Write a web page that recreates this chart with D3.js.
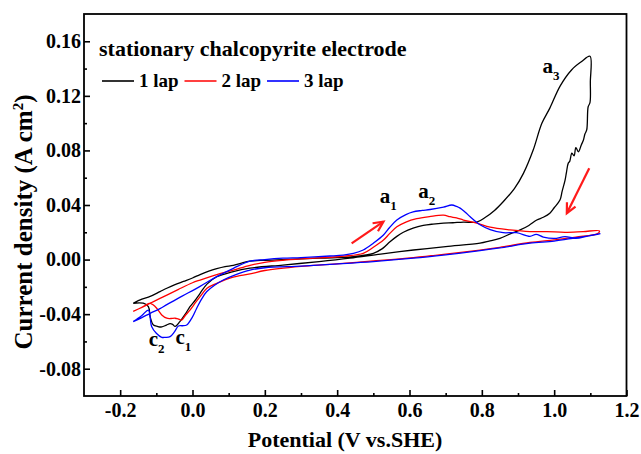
<!DOCTYPE html>
<html>
<head>
<meta charset="utf-8">
<script src="https://cdn.jsdelivr.net/npm/d3@7"></script>
<style>
  body { margin: 0; background: #fff; }
  text { font-family: "Liberation Serif", "Times New Roman", serif; font-weight: bold; fill: #000; }
</style>
</head>
<body>
<div id="chart"></div>
<script>
// cyclic voltammograms, [potential V vs SHE, current density A/cm2]
const lap1 = [
  [-0.164,-0.032],[-0.14,-0.029],[-0.117,-0.027],[-0.09,-0.0235],[-0.071,-0.021],[-0.05,-0.0185],
  [-0.025,-0.016],[0.0,-0.0135],[0.021,-0.011],[0.045,-0.0085],[0.067,-0.0067],[0.09,-0.0052],
  [0.113,-0.0042],[0.159,-0.0012],[0.2,-0.0005],[0.25,0.0],[0.3,0.0005],[0.35,0.001],[0.4,0.0015],
  [0.445,0.0022],[0.5,0.0046],[0.525,0.008],[0.546,0.013],[0.565,0.017],[0.583,0.020],[0.61,0.023],
  [0.638,0.025],[0.665,0.026],[0.694,0.0267],[0.72,0.027],[0.749,0.0275],[0.786,0.0275],[0.81,0.031],
  [0.835,0.036],[0.859,0.0424],[0.89,0.052],[0.915,0.0632],[0.942,0.0803],[0.966,0.0999],[0.988,0.111],
  [1.016,0.127],[1.048,0.139],[1.075,0.145],[1.099,0.149],
  [1.1,0.13],[1.099,0.115],[1.094,0.112],[1.09,0.095],[1.085,0.092],[1.081,0.0876],[1.075,0.084],
  [1.067,0.079],[1.06,0.082],[1.055,0.076],[1.049,0.078],[1.043,0.072],[1.039,0.0707],[1.034,0.064],
  [1.030,0.058],[1.022,0.05],[1.016,0.0436],[1.0,0.038],[0.988,0.034],[0.97,0.031],[0.952,0.029],
  [0.93,0.025],[0.906,0.0217],[0.88,0.019],[0.85,0.0156],[0.82,0.0135],[0.795,0.012],[0.7,0.0095],
  [0.611,0.007],[0.52,0.004],[0.435,0.001],[0.35,-0.0015],[0.25,-0.004],[0.159,-0.0063],[0.11,-0.009],
  [0.067,-0.0126],[0.04,-0.018],[0.021,-0.0247],[0.007,-0.030],[-0.007,-0.0345],[-0.02,-0.040],
  [-0.035,-0.0455],[-0.048,-0.049],[-0.055,-0.0475],[-0.062,-0.047],[-0.072,-0.048],[-0.085,-0.0494],
  [-0.097,-0.049],[-0.108,-0.048],[-0.117,-0.042],[-0.122,-0.0345],[-0.136,-0.032],[-0.164,-0.032]
];
const lap2 = [
  [-0.164,-0.038],[-0.14,-0.035],[-0.117,-0.032],[-0.09,-0.0285],[-0.071,-0.026],[-0.04,-0.022],
  [0.0,-0.017],[0.021,-0.015],[0.067,-0.011],[0.113,-0.0077],[0.159,-0.0042],[0.2,-0.002],
  [0.25,-0.0005],[0.3,0.0005],[0.38,0.0017],[0.42,0.0025],[0.472,0.0046],[0.5,0.009],[0.528,0.0143],
  [0.545,0.019],[0.565,0.024],[0.59,0.0275],[0.62,0.030],[0.655,0.0315],[0.694,0.0326],[0.712,0.0314],
  [0.73,0.0305],[0.749,0.029],[0.786,0.0267],[0.823,0.0237],[0.878,0.0217],[0.933,0.0205],[0.98,0.0205],
  [1.03,0.02],[1.08,0.0205],[1.125,0.021],
  [1.12,0.019],[1.06,0.0165],[1.0,0.0145],[0.933,0.0125],[0.85,0.009],[0.795,0.007],[0.7,0.004],
  [0.611,0.0015],[0.5,-0.001],[0.38,-0.0035],[0.3,-0.005],[0.2,-0.008],[0.159,-0.0105],[0.11,-0.013],
  [0.067,-0.0174],[0.04,-0.021],[0.021,-0.0272],[0.007,-0.032],[-0.007,-0.037],[-0.02,-0.041],
  [-0.03,-0.0443],[-0.04,-0.0435],[-0.048,-0.043],[-0.06,-0.0432],[-0.071,-0.043],[-0.085,-0.0406],
  [-0.099,-0.0357],[-0.11,-0.033],[-0.117,-0.032],[-0.14,-0.035],[-0.164,-0.038]
];
const lap3 = [
  [-0.164,-0.0455],[-0.14,-0.0425],[-0.117,-0.0394],[-0.09,-0.036],[-0.071,-0.033],[-0.03,-0.027],
  [0.021,-0.0196],[0.067,-0.0125],[0.113,-0.0064],[0.159,-0.0012],[0.2,0.0],[0.25,0.001],[0.3,0.0015],
  [0.38,0.0026],[0.417,0.0033],[0.445,0.0045],[0.472,0.007],[0.5,0.012],[0.528,0.018],[0.545,0.0235],
  [0.565,0.029],[0.59,0.033],[0.61,0.035],[0.635,0.036],[0.657,0.0367],[0.694,0.0385],[0.717,0.040],
  [0.73,0.039],[0.740,0.0377],[0.755,0.0345],[0.767,0.0316],[0.795,0.0255],[0.823,0.022],[0.859,0.0197],
  [0.896,0.0197],[0.933,0.017],[0.95,0.0185],[0.97,0.0165],[1.0,0.0155],[1.03,0.0168],[1.06,0.0156],
  [1.09,0.017],[1.127,0.019],
  [1.12,0.0185],[1.06,0.016],[1.0,0.0135],[0.933,0.012],[0.85,0.0085],[0.795,0.0065],[0.7,0.0035],
  [0.611,0.001],[0.5,-0.0015],[0.38,-0.0035],[0.3,-0.0048],[0.2,-0.006],[0.159,-0.0077],[0.12,-0.011],
  [0.085,-0.015],[0.06,-0.019],[0.039,-0.0236],[0.025,-0.029],[0.011,-0.036],[0.0,-0.042],
  [-0.016,-0.048],[-0.028,-0.0485],[-0.039,-0.0487],[-0.05,-0.053],[-0.062,-0.0565],[-0.075,-0.057],
  [-0.085,-0.057],[-0.1,-0.054],[-0.113,-0.049],[-0.122,-0.037],[-0.14,-0.041],[-0.164,-0.0455]
];

const lapNames = ["1 lap", "2 lap", "3 lap"];
const lapColors = ["#000000", "#ff0000", "#0000ff"];
const xTicks = [-0.2, 0.0, 0.2, 0.4, 0.6, 0.8, 1.0, 1.2];
const xMinor = [-0.1, 0.1, 0.3, 0.5, 0.7, 0.9, 1.1];
const yTicks = [-0.08, -0.04, 0.0, 0.04, 0.08, 0.12, 0.16];
const yMinor = [-0.06, -0.02, 0.02, 0.06, 0.10, 0.14];

// peak labels [letter, subscript, potential, current]
const peakLabels = [
  ["a", "1", 0.541, 0.0461], ["a", "2", 0.648, 0.0497], ["a", "3", 0.991, 0.1414],
  ["c", "2", -0.099, -0.059], ["c", "1", -0.025, -0.057]
];
// scan direction arrows [from, to]
const arrows = [
  [[0.440, 0.0119], [0.528, 0.0278]],
  [[1.097, 0.0669], [1.035, 0.0339]]
];

const width = 641, height = 454;
const x = d3.scaleLinear().domain([-0.3, 1.2]).range([84, 626.5]);
const y = d3.scaleLinear().domain([-0.1, 0.18]).range([396, 14]);

const svg = d3.select("#chart").append("svg")
  .attr("width", width).attr("height", height);

// curves
const line = d3.line().x(d => x(d[0])).y(d => y(d[1])).curve(d3.curveCatmullRom.alpha(0.5));
[lap1, lap2, lap3].forEach((lap, i) => {
  svg.append("path")
    .attr("d", line(lap))
    .attr("fill", "none")
    .attr("stroke", lapColors[i])
    .attr("stroke-width", 1.3);
});

// axes
svg.append("g").attr("transform", "translate(0,396)")
  .call(d3.axisBottom(x).tickValues(xTicks).tickFormat(d => d.toFixed(1))
    .tickSizeInner(-6).tickSizeOuter(0).tickPadding(7));
svg.append("g").attr("transform", "translate(0,396)")
  .call(d3.axisBottom(x).tickValues(xMinor).tickFormat("").tickSizeInner(-3).tickSizeOuter(0));
svg.append("g").attr("transform", "translate(84,0)")
  .call(d3.axisLeft(y).tickValues(yTicks).tickFormat(d => d.toFixed(2))
    .tickSizeInner(-6).tickSizeOuter(0).tickPadding(3));
svg.append("g").attr("transform", "translate(84,0)")
  .call(d3.axisLeft(y).tickValues(yMinor).tickFormat("").tickSizeInner(-3).tickSizeOuter(0));
svg.selectAll(".domain").remove();
svg.selectAll(".tick line").attr("stroke", "#000").attr("stroke-width", 1.6);
svg.selectAll(".tick text").style("font-size", "20px")
  .style("font-family", "'Liberation Serif', serif").style("font-weight", "bold");

// frame
svg.append("rect")
  .attr("x", 84).attr("y", 14).attr("width", 626.5 - 84).attr("height", 396 - 14)
  .attr("fill", "none").attr("stroke", "#000").attr("stroke-width", 1.8);

// axis titles
svg.append("text").attr("x", 345).attr("y", 447).attr("text-anchor", "middle")
  .style("font-size", "22px").text("Potential (V vs.SHE)");
const yt = svg.append("text").attr("transform", "translate(32,222) rotate(-90)")
  .attr("text-anchor", "middle").style("font-size", "25px");
yt.append("tspan").text("Current density (A cm");
yt.append("tspan").attr("dy", -9).style("font-size", "15px").text("2");
yt.append("tspan").attr("dy", 9).text(")");

// legend
svg.append("text").attr("x", 99).attr("y", 56).style("font-size", "22px")
  .text("stationary chalcopyrite electrode");
lapNames.forEach((n, i) => {
  const lx = 102 + i * 82.5;
  svg.append("line").attr("x1", lx).attr("x2", lx + 32).attr("y1", 81).attr("y2", 81)
    .attr("stroke", lapColors[i]).attr("stroke-width", 1.6);
  svg.append("text").attr("x", lx + 37).attr("y", 87).style("font-size", "19px").text(n);
});

// peak labels
peakLabels.forEach(p => {
  const t = svg.append("text").attr("x", x(p[2])).attr("y", y(p[3]))
    .attr("text-anchor", "middle").attr("dy", "0.3em").style("font-size", "21px");
  t.append("tspan").text(p[0]);
  t.append("tspan").attr("dy", 7).style("font-size", "13px").text(p[1]);
});

// arrows
arrows.forEach(a => {
  const x0 = x(a[0][0]), y0 = y(a[0][1]), x1 = x(a[1][0]), y1 = y(a[1][1]);
  const ang = Math.atan2(y1 - y0, x1 - x0), hl = 11, ha = 0.45;
  svg.append("line").attr("x1", x0).attr("y1", y0).attr("x2", x1).attr("y2", y1)
    .attr("stroke", "#ff1a1a").attr("stroke-width", 2.2);
  svg.append("path")
    .attr("d", `M${x1 - hl * Math.cos(ang - ha)},${y1 - hl * Math.sin(ang - ha)}L${x1},${y1}L${x1 - hl * Math.cos(ang + ha)},${y1 - hl * Math.sin(ang + ha)}`)
    .attr("fill", "none").attr("stroke", "#ff1a1a").attr("stroke-width", 2.2);
});
</script>
</body>
</html>
